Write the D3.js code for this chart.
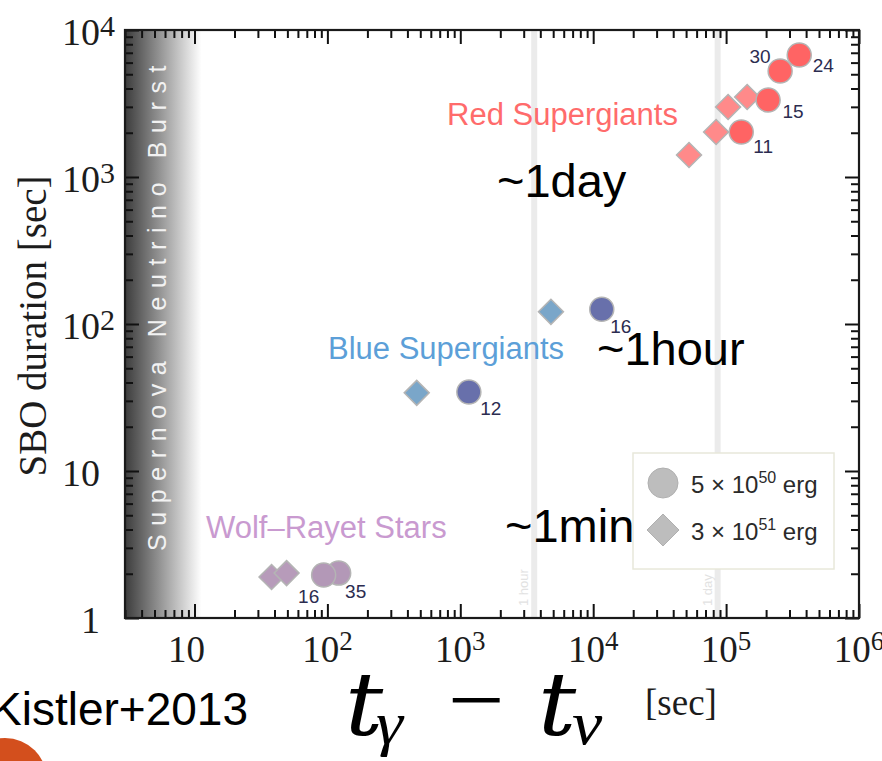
<!DOCTYPE html>
<html>
<head>
<meta charset="utf-8">
<script src="https://cdn.jsdelivr.net/npm/d3@7"></script>
<style>
  html, body { margin: 0; padding: 0; background: #fff; overflow: hidden; }
  svg { display: block; }
</style>
</head>
<body>
<svg id="chart" width="882" height="761"></svg>
<script>
// ---- data ----
const timeDomain = [3, 1e6];          // t_gamma - t_nu [sec]
const durationDomain = [1, 1e4];      // SBO duration [sec]

const xTickValues = [10, 1e2, 1e3, 1e4, 1e5, 1e6];
const xTickBases = ["10", "10", "10", "10", "10", "10"];
const xTickExponents = ["", "2", "3", "4", "5", "6"];

const yTickValues = [1, 10, 1e2, 1e3, 1e4];
const yTickBases = ["1", "10", "10", "10", "10"];
const yTickExponents = ["", "", "2", "3", "4"];

const groupNames = ["Red Supergiants", "Blue Supergiants", "Wolf\u2013Rayet Stars"];

// 5 x 10^50 erg explosions (circles), labelled by progenitor mass
const circleDelay = [1.30e5, 2.07e5, 3.55e5, 2.55e5, 1160, 1.16e4, 121.6, 93.7];
const circleDuration = [2024, 3340, 6760, 5260, 34.5, 126, 2.02, 1.96];
const circleMass = ["11", "15", "24", "30", "12", "16", "35", "16"];
const circleGroup = [0, 0, 0, 0, 1, 1, 2, 2];

// 3 x 10^51 erg explosions (diamonds)
const diamondDelay = [5.26e4, 8.41e4, 1.035e5, 1.44e5, 470, 4808, 38.0, 49.3];
const diamondDuration = [1412, 2024, 2993, 3500, 34, 121, 1.90, 2.02];
const diamondGroup = [0, 0, 0, 0, 1, 1, 2, 2];

const legendBases = ["5 \u00d7 10", "3 \u00d7 10"];
const legendExponents = ["50", "51"];
const legendUnit = " erg";

const referenceTimes = [3600, 86400];
const referenceLabels = ["1 hour", "1 day"];

const neutrinoBurstEnd = 10;
const bandLabel = "Supernova Neutrino Burst";
const scaleNotes = ["~1day", "~1hour", "~1min"];
const citation = "Kistler+2013";

// ---- styles ----
const circleFill = ["#ff6464", "#6870ab", "#b398b7"];
const diamondFill = ["#ff8a8a", "#7aa6c9", "#b79bba"];
const groupLabelColor = ["#ff6b6b", "#5c9fd8", "#c99ad0"];
const markerStroke = "#b4b4b4";
const serif = "'Liberation Serif', 'Times New Roman', Times, serif";
const sans = "'Liberation Sans', Arial, Helvetica, sans-serif";

const svg = d3.select("#chart");

const x = d3.scaleLog().domain(timeDomain).range([125, 859]);
const y = d3.scaleLog().domain(durationDomain).range([618, 30]);
const [x0, x1] = x.range();
const [y0, y1] = y.range();

// ---- neutrino burst shading ----
const defs = svg.append("defs");
const grad = defs.append("linearGradient").attr("id", "burst")
  .attr("x1", 0).attr("x2", 1).attr("y1", 0).attr("y2", 0);
grad.append("stop").attr("offset", 0).attr("stop-color", "#3c3c3c");
grad.append("stop").attr("offset", 0.45).attr("stop-color", "#939393");
grad.append("stop").attr("offset", 1).attr("stop-color", "#fff");

const bandRight = x(neutrinoBurstEnd) + 7;
svg.append("rect")
  .attr("x", x0).attr("y", y1)
  .attr("width", bandRight - x0).attr("height", y0 - y1)
  .attr("fill", "url(#burst)");

svg.append("text")
  .attr("transform", `translate(${x0 + 41},${(y0 + y1) / 2 - 20}) rotate(-90)`)
  .attr("text-anchor", "middle")
  .attr("font-family", sans)
  .attr("font-size", 25)
  .attr("letter-spacing", 8.6)
  .attr("fill", "#f2f2f2")
  .text(bandLabel);

// ---- 1 hour / 1 day reference lines ----
referenceTimes.forEach((t, i) => {
  svg.append("line")
    .attr("x1", x(t)).attr("x2", x(t))
    .attr("y1", y1).attr("y2", y0)
    .attr("stroke", "#ebebeb").attr("stroke-width", 6);
  svg.append("text")
    .attr("transform", `translate(${x(t) - 6},${y0 - 12}) rotate(-90)`)
    .attr("font-family", sans).attr("font-size", 13)
    .attr("fill", "#e2e2e2")
    .text(referenceLabels[i]);
});

// ---- axes: ticks on all four sides, pointing inward ----
const isMajor = v => Math.abs(Math.log10(v) - Math.round(Math.log10(v))) < 1e-9;
const xMinor = x.ticks().filter(v => !isMajor(v));
const yMinor = y.ticks().filter(v => !isMajor(v));
const xMajor = x.ticks().filter(isMajor);
const yMajor = y.ticks().filter(isMajor);

function drawAxis(axisFn, scale, values, size, transform) {
  const g = svg.append("g").attr("transform", transform)
    .call(axisFn(scale).tickValues(values).tickSize(size).tickFormat(""));
  g.select(".domain").remove();
  g.selectAll(".tick line").attr("stroke", "#111").attr("stroke-width", 2);
}
drawAxis(d3.axisBottom, x, xMajor, -14, `translate(0,${y0})`);
drawAxis(d3.axisBottom, x, xMinor, -8, `translate(0,${y0})`);
drawAxis(d3.axisTop, x, xMajor, -14, `translate(0,${y1})`);
drawAxis(d3.axisTop, x, xMinor, -8, `translate(0,${y1})`);
drawAxis(d3.axisLeft, y, yMajor, -14, `translate(${x0},0)`);
drawAxis(d3.axisLeft, y, yMinor, -8, `translate(${x0},0)`);
drawAxis(d3.axisRight, y, yMajor, -14, `translate(${x1},0)`);
drawAxis(d3.axisRight, y, yMinor, -8, `translate(${x1},0)`);

svg.append("rect")
  .attr("x", x0).attr("y", y1).attr("width", x1 - x0).attr("height", y0 - y1)
  .attr("fill", "none").attr("stroke", "#1a1a1a").attr("stroke-width", 2.2);

// tick labels with superscript exponents
xTickValues.forEach((v, i) => {
  const shift = xTickExponents[i] ? 0 : -8;
  const t = svg.append("text")
    .attr("x", x(v) + shift).attr("y", 662)
    .attr("text-anchor", "middle")
    .attr("font-family", serif).attr("font-size", 37).attr("fill", "#1c1c1c")
    .text(xTickBases[i]);
  if (xTickExponents[i]) {
    t.append("tspan").attr("dy", -12).attr("font-size", 27).text(xTickExponents[i]);
  }
});
yTickValues.forEach((v, i) => {
  svg.append("text")
    .attr("x", 100).attr("y", y(v) + 15)
    .attr("text-anchor", "end")
    .attr("font-family", serif).attr("font-size", 38).attr("fill", "#1c1c1c")
    .text(yTickBases[i]);
  if (yTickExponents[i]) {
    svg.append("text")
      .attr("x", 100).attr("y", y(v) + 6)
      .attr("font-family", serif).attr("font-size", 30).attr("fill", "#1c1c1c")
      .text(yTickExponents[i]);
  }
});

// axis titles
svg.append("text")
  .attr("transform", "translate(46,326) rotate(-90)")
  .attr("text-anchor", "middle")
  .attr("font-family", serif).attr("font-size", 39).attr("fill", "#1c1c1c")
  .text("SBO duration [sec]");

// x title as a math expression: t_gamma - t_nu
const xTitle = svg.append("g").attr("fill", "#000");
function mathGlyph(ch, gx, gy, family, size, sx, italic) {
  xTitle.append("text")
    .attr("transform", `translate(${gx},${gy}) scale(${sx},1)`)
    .attr("font-family", family)
    .attr("font-size", size)
    .attr("font-style", italic ? "italic" : "normal")
    .text(ch);
}
const tFont = "'DejaVu Serif', serif";
const greekFont = "'Liberation Serif', 'Times New Roman', serif";
mathGlyph("t", 345, 735, tFont, 88, 1.08, true);
mathGlyph("\u03b3", 376, 744, greekFont, 62, 1.1, true);
mathGlyph("\u2212", 448, 730, greekFont, 90, 1.12, false);
mathGlyph("t", 538, 735, tFont, 88, 1.08, true);
mathGlyph("\u03bd", 572, 744, greekFont, 62, 1.1, true);

svg.append("text")
  .attr("x", 645).attr("y", 715)
  .attr("font-family", serif).attr("font-size", 37).attr("fill", "#1c1c1c")
  .text("[sec]");

// ---- markers ----
const half = 12.5;
svg.append("g").selectAll("path")
  .data(diamondDelay.map((t, i) => ({ t, d: diamondDuration[i], g: diamondGroup[i] })))
  .join("path")
  .attr("d", `M0,${-half}L${half},0L0,${half}L${-half},0Z`)
  .attr("transform", d => `translate(${x(d.t)},${y(d.d)})`)
  .attr("fill", d => diamondFill[d.g])
  .attr("stroke", markerStroke).attr("stroke-width", 1.5);

const circles = circleDelay.map((t, i) => ({ t, d: circleDuration[i], g: circleGroup[i], m: circleMass[i], i }));
svg.append("g").selectAll("circle")
  .data(circles)
  .join("circle")
  .attr("cx", d => x(d.t)).attr("cy", d => y(d.d)).attr("r", 12)
  .attr("fill", d => circleFill[d.g])
  .attr("stroke", markerStroke).attr("stroke-width", 1.5);

// progenitor mass labels beside each circle
const massOffset = [[22, 21], [25, 18], [24, 17], [-20, -8], [22, 23], [19, 24], [17, 25], [-15, 28]];
svg.append("g").selectAll("text")
  .data(circles)
  .join("text")
  .attr("x", d => x(d.t) + massOffset[d.i][0])
  .attr("y", d => y(d.d) + massOffset[d.i][1])
  .attr("text-anchor", "middle")
  .attr("font-family", sans).attr("font-size", 19)
  .attr("fill", "#2c2c50")
  .text(d => d.m);

// group names
const groupLabelPos = [[447, 125], [328, 359], [206, 538]];
groupNames.forEach((n, i) => {
  svg.append("text")
    .attr("x", groupLabelPos[i][0]).attr("y", groupLabelPos[i][1])
    .attr("font-family", sans).attr("font-size", 31)
    .attr("fill", groupLabelColor[i])
    .text(n);
});

// ---- legend ----
const lg = svg.append("g").attr("transform", "translate(633,453)");
lg.append("rect").attr("width", 201).attr("height", 116)
  .attr("fill", "#fff").attr("stroke", "#e8e8da").attr("stroke-width", 1.5);
lg.append("circle").attr("cx", 30).attr("cy", 30).attr("r", 15)
  .attr("fill", "#bdbdbd").attr("stroke", "#b0b0b0").attr("stroke-width", 1);
lg.append("path").attr("d", "M30,61L46,77L30,93L14,77Z")
  .attr("fill", "#bdbdbd").attr("stroke", "#b0b0b0").attr("stroke-width", 1);
legendBases.forEach((b, i) => {
  const t = lg.append("text")
    .attr("x", 58).attr("y", 40 + i * 47)
    .attr("font-family", sans).attr("font-size", 24).attr("fill", "#2a2a2a")
    .text(b);
  t.append("tspan").attr("dy", -10).attr("font-size", 16).text(legendExponents[i]);
  t.append("tspan").attr("dy", 10).text(legendUnit);
});

// ---- time-scale notes ----
const notePos = [[497, 197], [597, 365], [505, 542]];
scaleNotes.forEach((s, i) => {
  svg.append("text")
    .attr("x", notePos[i][0]).attr("y", notePos[i][1])
    .attr("font-family", sans).attr("font-size", 47).attr("fill", "#000")
    .text(s);
});

// ---- citation and slide decoration ----
svg.append("text")
  .attr("x", -9).attr("y", 725)
  .attr("font-family", sans).attr("font-size", 46).attr("fill", "#000")
  .text(citation);
svg.append("circle").attr("cx", 5).attr("cy", 780).attr("r", 42).attr("fill", "#d34f1d");
</script>
</body>
</html>
